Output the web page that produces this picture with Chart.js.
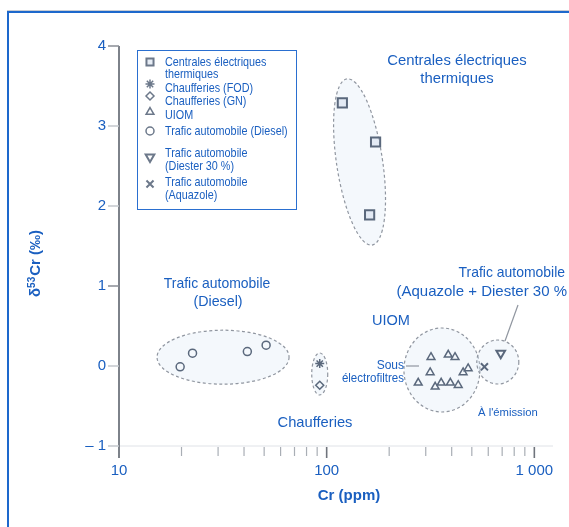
<!DOCTYPE html>
<html>
<head>
<meta charset="utf-8">
<script src="https://cdn.jsdelivr.net/npm/chart.js@4.4.1/dist/chart.umd.min.js"></script>
<style>
  html, body { margin: 0; padding: 0; background: #fff; overflow: hidden; }
  canvas { display: block; }
</style>
</head>
<body>
<canvas id="c" width="569" height="527"></canvas>
<script>
// Emission sources (legend order), each label split into its printed lines
const sourceLabels = [
  ['Centrales électriques', 'thermiques'],
  ['Chaufferies (FOD)'],
  ['Chaufferies (GN)'],
  ['UIOM'],
  ['Trafic automobile (Diesel)'],
  ['Trafic automobile', '(Diester 30 %)'],
  ['Trafic automobile', '(Aquazole)']
];

// Cr concentration (ppm) and δ53Cr (‰) per source
const centralesCr  = [119, 172, 161];
const centralesD53 = [3.29, 2.80, 1.89];
const fodCr  = [92.6];
const fodD53 = [0.03];
const gnCr  = [92.6];
const gnD53 = [-0.24];
const uiomCr  = [318, 315, 385, 415, 454, 480, 276, 333, 356, 394, 430];
const uiomD53 = [0.11, -0.08, 0.14, 0.11, -0.08, -0.03, -0.21, -0.26, -0.21, -0.21, -0.24];
const dieselCr  = [19.7, 22.6, 41.5, 51.1];
const dieselD53 = [-0.01, 0.16, 0.18, 0.26];
const diesterCr  = [689];
const diesterD53 = [0.16];
const aquazoleCr  = [575];
const aquazoleD53 = [-0.01];

// Axis tick labels
const xTickLabels = { 10: '10', 100: '100', 1000: '1 000' };
const yTickValues = [-1, 0, 1, 2, 3, 4];

const BLUE = '#1a5fc0';
const MARK = '#5a687c';
const FONT = '"Liberation Sans", Arial, Helvetica, sans-serif';

function pts(xs, ys) { return xs.map((x, i) => ({ x: x, y: ys[i] })); }

const pointStyles = [
  { pointStyle: 'rect', radius: 6.5, rotation: 0, borderWidth: 2 },
  { pointStyle: 'star', radius: 4.5, rotation: 0, borderWidth: 1.5 },
  { pointStyle: 'rectRot', radius: 4, rotation: 0, borderWidth: 1.5 },
  { pointStyle: 'triangle', radius: 4.5, rotation: 0, borderWidth: 1.5 },
  { pointStyle: 'circle', radius: 4, rotation: 0, borderWidth: 1.5 },
  { pointStyle: 'triangle', radius: 5, rotation: 180, borderWidth: 2 },
  { pointStyle: 'crossRot', radius: 5, rotation: 0, borderWidth: 2 }
];
const seriesData = [
  pts(centralesCr, centralesD53),
  pts(fodCr, fodD53),
  pts(gnCr, gnD53),
  pts(uiomCr, uiomD53),
  pts(dieselCr, dieselD53),
  pts(diesterCr, diesterD53),
  pts(aquazoleCr, aquazoleD53)
];

const datasets = seriesData.map((d, i) => ({
  label: sourceLabels[i].join(' '),
  data: d,
  pointStyle: pointStyles[i].pointStyle,
  pointRadius: pointStyles[i].radius,
  pointRotation: pointStyles[i].rotation,
  pointBorderWidth: pointStyles[i].borderWidth,
  borderColor: MARK,
  backgroundColor: i === 0 ? 'rgba(215,225,238,0.6)' : 'rgba(255,255,255,0)',
  showLine: false
}));

// Cluster outlines: centre in data units, radii in px
const clusters = [
  { x: 144, y: 2.55, rx: 23, ry: 84, rot: -0.15 },
  { x: 31.7, y: 0.11, rx: 66, ry: 27, rot: 0 },
  { x: 92.6, y: -0.10, rx: 8, ry: 21, rot: 0 },
  { x: 359, y: -0.05, rx: 38, ry: 42, rot: 0 },
  { x: 667, y: 0.05, rx: 21, ry: 22, rot: 0 }
];

function text(ctx, s, x, y, size, align, sx, weight) {
  ctx.save();
  ctx.font = (weight || 'normal') + ' ' + size + 'px ' + FONT;
  ctx.textAlign = align || 'left';
  ctx.textBaseline = 'middle';
  ctx.fillStyle = BLUE;
  ctx.translate(x, y);
  ctx.scale(sx || 1, 1);
  ctx.fillText(s, 0, 0);
  ctx.restore();
}

function line(ctx, x1, y1, x2, y2, color, w) {
  ctx.save();
  ctx.strokeStyle = color;
  ctx.lineWidth = w;
  ctx.beginPath();
  ctx.moveTo(x1, y1);
  ctx.lineTo(x2, y2);
  ctx.stroke();
  ctx.restore();
}

const decor = {
  id: 'decor',
  beforeDraw(chart) {
    const ctx = chart.ctx;
    ctx.save();
    ctx.fillStyle = '#fff';
    ctx.fillRect(0, 0, chart.width, chart.height);
    // page frame
    ctx.fillStyle = '#c9ccd2';
    ctx.fillRect(7, 10, chart.width - 7, 1);
    ctx.fillStyle = '#1d68cc';
    ctx.fillRect(7, 11, 2, chart.height - 11);
    ctx.fillRect(7, 11, chart.width - 7, 2);
    ctx.restore();
  },
  beforeDatasetsDraw(chart) {
    const ctx = chart.ctx;
    const xs = chart.scales.x, ys = chart.scales.y;
    const a = chart.chartArea;

    // x axis: faint base line and log ticks
    line(ctx, a.left, a.bottom, a.right, a.bottom, '#dfe2e7', 1);
    for (let dec = 10; dec <= 1000; dec *= 10) {
      for (let m = 1; m <= 9; m++) {
        const v = dec * m;
        if (v > 1000) break;
        const px = xs.getPixelForValue(v);
        const major = m === 1;
        line(ctx, px, a.bottom + 1, px, a.bottom + (major ? 12 : 10), major ? '#6f747c' : '#a9aeb5', major ? 1.6 : 1.2);
      }
    }
    // y axis line and ticks
    line(ctx, a.left, a.top, a.left, a.bottom + 12, '#7d828a', 2);
    yTickValues.forEach(v => {
      const py = ys.getPixelForValue(v);
      line(ctx, a.left - 11, py, a.left, py, (v === 4 || v === 1) ? '#888d95' : '#c3c7cd', 1.5);
    });

    // cluster outlines
    ctx.save();
    ctx.setLineDash([3, 2.5]);
    ctx.lineWidth = 1.2;
    ctx.strokeStyle = '#9096a0';
    ctx.fillStyle = 'rgba(214,230,246,0.28)';
    clusters.forEach(c => {
      ctx.beginPath();
      ctx.ellipse(xs.getPixelForValue(c.x), ys.getPixelForValue(c.y), c.rx, c.ry, c.rot, 0, Math.PI * 2);
      ctx.fill();
      ctx.stroke();
    });
    ctx.restore();

    // leader lines
    line(ctx, 518, 305, 505, 341, '#9096a0', 1.2);
    line(ctx, 406, 366, 419, 366, '#9096a0', 1.2);
  },
  afterDraw(chart) {
    const ctx = chart.ctx;

    // legend box
    ctx.save();
    ctx.strokeStyle = '#2a6fd0';
    ctx.lineWidth = 1;
    ctx.strokeRect(137.5, 50.5, 159, 159);
    ctx.restore();

    const symY = [62, 84, 96, 112, 131, 157, 184];
    const lineY = [[62, 74], [88], [101], [115], [131], [153, 166], [182, 195]];
    sourceLabels.forEach((lines, i) => {
      const ps = pointStyles[i];
      ctx.save();
      ctx.strokeStyle = '#6c788a';
      ctx.fillStyle = i === 0 ? 'rgba(215,225,238,0.6)' : 'rgba(255,255,255,0)';
      ctx.lineWidth = ps.borderWidth;
      if (Chart.helpers && Chart.helpers.drawPoint) {
        Chart.helpers.drawPoint(ctx, {
          pointStyle: ps.pointStyle,
          radius: Math.min(ps.radius, 5),
          rotation: ps.rotation,
          borderWidth: ps.borderWidth
        }, 150, symY[i]);
      }
      ctx.restore();
      lines.forEach((s, k) => text(ctx, s, 165, lineY[i][k], 13.5, 'left', 0.8));
    });

    // cluster annotations
    text(ctx, 'Centrales électriques', 457, 61, 15, 'center', 0.99);
    text(ctx, 'thermiques', 457, 79, 15, 'center', 0.99);
    text(ctx, 'Trafic automobile', 217, 284, 15, 'center', 0.93);
    text(ctx, '(Diesel)', 218, 302, 15, 'center', 0.95);
    text(ctx, 'Trafic automobile', 565, 273, 15, 'right', 0.93);
    text(ctx, '(Aquazole + Diester 30 %', 567, 292, 15, 'right', 1);
    text(ctx, 'UIOM', 372, 321, 15, 'left', 0.97);
    text(ctx, 'Sous', 404, 366, 12, 'right', 1);
    text(ctx, 'électrofiltres', 404, 379, 12, 'right', 0.96);
    text(ctx, 'Chaufferies', 315, 423, 15, 'center', 0.98);
    text(ctx, 'À l\'émission', 478, 413, 11.5, 'left', 0.98);

    // axis titles
    text(ctx, 'Cr (ppm)', 349, 496, 15, 'center', 1, 'bold');
    ctx.save();
    ctx.translate(36, 264);
    ctx.rotate(-Math.PI / 2);
    ctx.fillStyle = BLUE;
    ctx.textBaseline = 'middle';
    ctx.textAlign = 'left';
    const big = 'bold 15px ' + FONT, small = 'bold 10px ' + FONT;
    ctx.font = big; const w1 = ctx.measureText('δ').width;
    ctx.font = small; const w2 = ctx.measureText('53').width;
    ctx.font = big; const w3 = ctx.measureText('Cr (‰)').width;
    let x0 = -(w1 + w2 + w3) / 2;
    ctx.font = big; ctx.fillText('δ', x0, 0);
    ctx.font = small; ctx.fillText('53', x0 + w1, -4);
    ctx.font = big; ctx.fillText('Cr (‰)', x0 + w1 + w2 + 1, 0);
    ctx.restore();
  }
};

new Chart(document.getElementById('c'), {
  type: 'scatter',
  data: { datasets: datasets },
  options: {
    responsive: false,
    animation: false,
    devicePixelRatio: 1,
    layout: { padding: { left: 0, right: 14, top: 46, bottom: 0 } },
    plugins: { legend: { display: false }, tooltip: { enabled: false } },
    scales: {
      x: {
        type: 'logarithmic',
        min: 10,
        max: 1230,
        grid: { display: false, drawTicks: false },
        border: { display: false },
        ticks: {
          autoSkip: false,
          maxRotation: 0,
          padding: 16,
          color: BLUE,
          font: { family: FONT, size: 15 },
          callback: (v) => {
            const k = Math.round(Number(v));
            return Math.abs(Number(v) - k) < 1e-6 && xTickLabels[k] ? xTickLabels[k] : '';
          }
        },
        afterFit: (s) => { s.height = 81; }
      },
      y: {
        min: -1,
        max: 4,
        grid: { display: false, drawTicks: false },
        border: { display: false },
        afterBuildTicks: (s) => { s.ticks = yTickValues.map(v => ({ value: v })); },
        ticks: {
          padding: 13,
          color: BLUE,
          font: { family: FONT, size: 15 },
          callback: (v) => v < 0 ? '– ' + Math.abs(v) : String(v)
        },
        afterFit: (s) => { s.width = 119; }
      }
    }
  },
  plugins: [decor]
});
</script>
</body>
</html>
